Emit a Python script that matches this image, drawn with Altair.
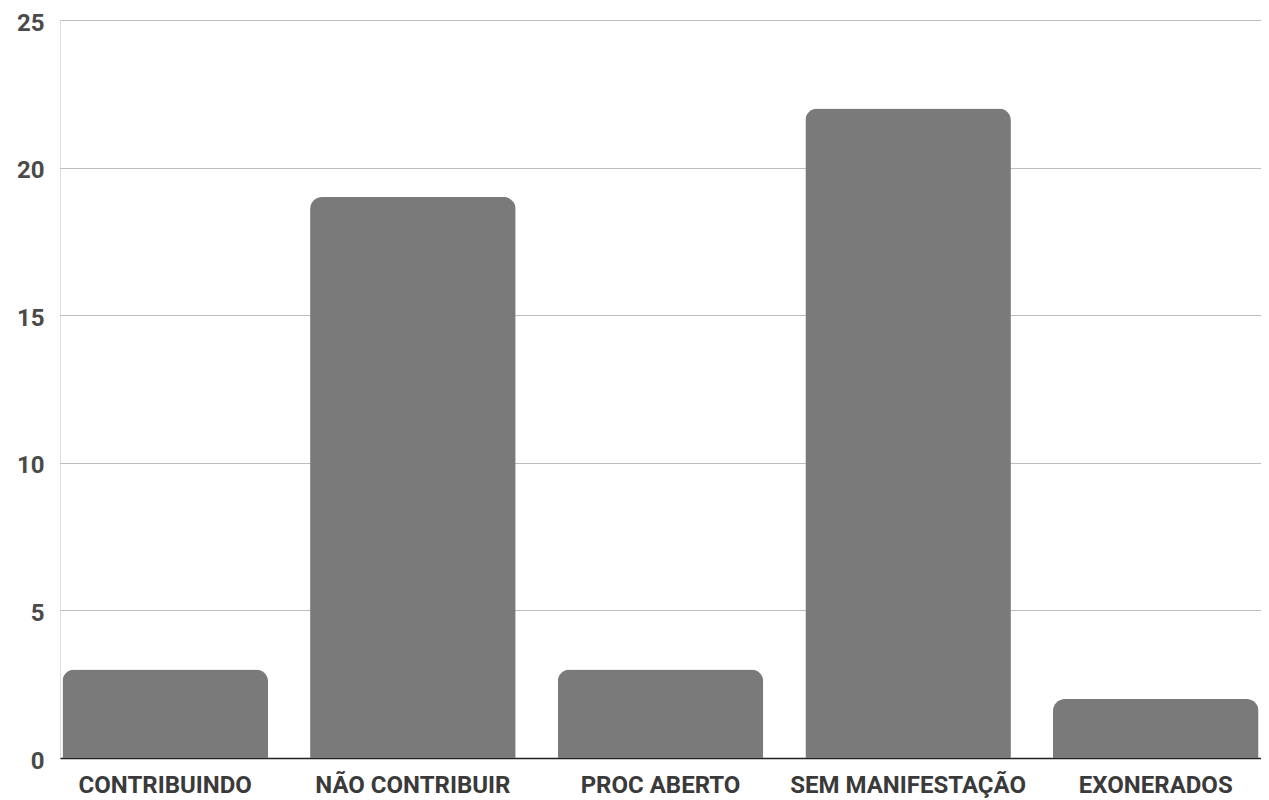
import altair as alt
import pandas as pd

categories = ["CONTRIBUINDO", "NÃO CONTRIBUIR", "PROC ABERTO", "SEM MANIFESTAÇÃO", "EXONERADOS"]
values = [3, 19, 3, 22, 2]
y_ticks = [0, 5, 10, 15, 20, 25]

df = pd.DataFrame({"categoria": categories, "valor": values})

chart = alt.Chart(df).mark_bar(
    color="#7a7a7a",
    cornerRadiusTopLeft=12,
    cornerRadiusTopRight=12,
).encode(
    x=alt.X(
        "categoria:N",
        sort=categories,
        title=None,
        scale=alt.Scale(paddingInner=0.17, paddingOuter=0.01),
        axis=alt.Axis(
            labelAngle=0,
            labelFont="Roboto",
            labelFontWeight="bold",
            labelFontSize=24,
            labelColor="#3a3a3a",
            labelPadding=15,
            labelLimit=500,
            ticks=False,
            domainColor="#222222",
            domainWidth=1.5,
            grid=False,
        ),
    ),
    y=alt.Y(
        "valor:Q",
        title=None,
        scale=alt.Scale(domain=[0, 25], nice=False),
        axis=alt.Axis(
            values=y_ticks,
            labelFont="Roboto",
            labelFontWeight="bold",
            labelFontSize=24,
            labelColor="#4a4a4a",
            labelPadding=16,
            labelOffset=3,
            ticks=False,
            domain=False,
            gridColor="#bdbdbd",
            gridWidth=1,
        ),
    ),
).properties(
    width=1201,
    height=738,
    autosize=alt.AutoSizeParams(type="none"),
    padding={"left": 52, "top": 12, "right": 0, "bottom": 42},
).configure_view(
    stroke=None
).configure(
    background="#ffffff"
)

chart.save("out.html", embed_options={"renderer": "svg", "actions": False})
